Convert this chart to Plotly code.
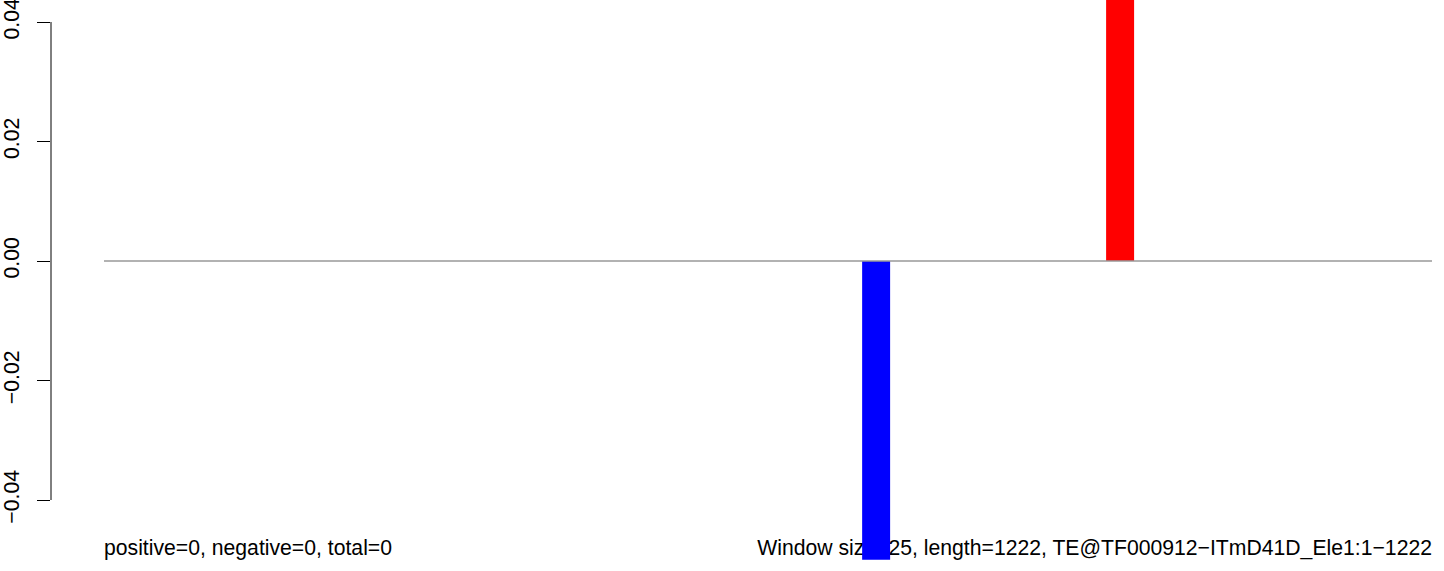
import plotly.graph_objects as go

# ---- data ----
seq_length = 1222
window_size = 25
bar_centers = [710.5, 935.0]
bar_values = [-0.05, 0.05]
bar_colors = ["#0000FF", "#FF0000"]
y_ticks = [-0.04, -0.02, 0.00, 0.02, 0.04]
y_ticklabels = ["\u22120.04", "\u22120.02", "0.00", "0.02", "0.04"]
left_label = "positive=0, negative=0, total=0"
right_label = "Window size=25, length=1222, TE@TF000912\u2212ITmD41D_Ele1:1\u22121222"

# ---- layout geometry ----
W, H = 1444, 571
ml, mr = 51, 12
px_per_unit = (1432 - 104) / seq_length
x_lo = seq_length - (W - ml - mr) / px_per_unit
y_zero_px, px_per_002 = 261, 119.5
y_hi = y_zero_px / px_per_002 * 0.02
y_lo = -(H - y_zero_px) / px_per_002 * 0.02
y_text = -(550 - y_zero_px) / px_per_002 * 0.02

FONT = "Liberation Sans, Arial, Helvetica, sans-serif"
FS = 21.2

fig = go.Figure()

# text labels (under the bars)
fig.add_trace(go.Scatter(
    x=[0], y=[y_text], mode="text", text=[left_label],
    textposition="middle right", textfont=dict(family=FONT, size=FS, color="black"),
    hoverinfo="skip", showlegend=False, xaxis="x", yaxis="y", cliponaxis=False))
fig.add_trace(go.Scatter(
    x=[seq_length], y=[y_text], mode="text", text=[right_label],
    textposition="middle left", textfont=dict(family=FONT, size=FS, color="black"),
    hoverinfo="skip", showlegend=False, xaxis="x", yaxis="y", cliponaxis=False))

# zero line
fig.add_trace(go.Scatter(
    x=[0, seq_length], y=[0, 0], mode="lines",
    line=dict(color="#999999", width=1.5), hoverinfo="skip", showlegend=False,
    xaxis="x2", yaxis="y2"))

# bars (overlay subplot so they sit above the text)
fig.add_trace(go.Bar(
    x=bar_centers, y=bar_values, width=[window_size * 1.03] * len(bar_values),
    marker=dict(color=bar_colors, line=dict(width=0)),
    showlegend=False, xaxis="x2", yaxis="y2"))

fig.update_layout(
    width=W, height=H,
    margin=dict(l=ml, r=mr, t=0, b=0, pad=0),
    paper_bgcolor="white", plot_bgcolor="white",
    font=dict(family=FONT, color="black"),
    xaxis=dict(range=[x_lo, seq_length], visible=False, fixedrange=True),
    xaxis2=dict(range=[x_lo, seq_length], visible=False, overlaying="x", fixedrange=True),
    yaxis=dict(range=[y_lo, y_hi], showgrid=False, zeroline=False, showline=False,
               tickmode="array", tickvals=y_ticks, ticktext=y_ticklabels,
               ticks="outside", ticklen=13, tickwidth=1, tickcolor="black",
               tickangle=-90, tickfont=dict(family=FONT, size=FS, color="black"),
               ticklabelstandoff=10, ticklabeloverflow="allow",
               automargin=False, fixedrange=True),
    yaxis2=dict(range=[y_lo, y_hi], visible=False, overlaying="y", fixedrange=True),
    shapes=[dict(type="line", xref="paper", yref="y", x0=0, x1=0,
                 y0=y_ticks[0], y1=y_ticks[-1], line=dict(color="black", width=1))],
)

fig.write_html(
    "out.html",
    config={"displayModeBar": False},
    post_script="document.body.style.margin='0';document.body.style.overflow='hidden';",
)
